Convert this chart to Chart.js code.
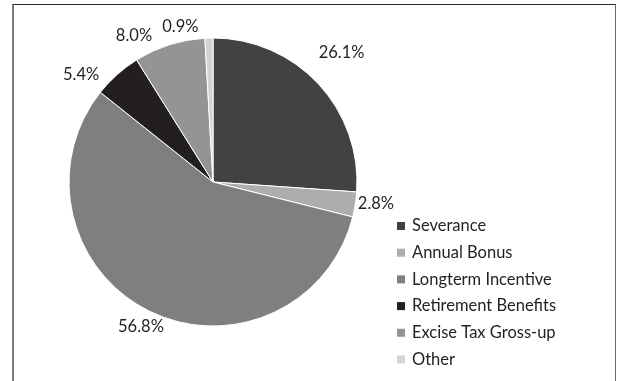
<!DOCTYPE html>
<html>
<head>
<meta charset="utf-8">
<script src="https://cdn.jsdelivr.net/npm/chart.js@4"></script>
<style>
    html, body { margin: 0; padding: 0; background: #fff; overflow: hidden; }
    #wrap { position: relative; width: 617px; height: 381px; }
    #frame {
        position: absolute; left: 12px; top: 4px; width: 601px; height: 400px;
        border-top: 1px solid #2a2a2a; border-left: 2px solid #7a7a7a; border-right: 1px solid #666;
    }
    canvas { position: absolute; left: 0; top: 0; }
</style>
</head>
<body>
<div id="wrap">
    <div id="frame"></div>
    <canvas id="pieChart" width="617" height="381"></canvas>
</div>
<script>
// Данные
const categories = ['Severance', 'Annual Bonus', 'Longterm Incentive', 'Retirement Benefits', 'Excise Tax Gross-up', 'Other'];
const shares = [26.1, 2.8, 56.8, 5.4, 8.0, 0.9];
const sliceColors = ['#414244', '#acadaf', '#7e7f81', '#231f20', '#939496', '#d2d3d5'];

const FONT = '16.5px Lato, "Open Sans", sans-serif';
const TEXT_COLOR = '#231f20';

// небольшие сдвиги подписей, как в оригинале (px)
const labelNudge = [[8, -17], [0, -4], [1, -3], [-22, 16], [-29, 11], [-28, 10]];

const pctLabels = {
    id: 'pctLabels',
    afterDatasetsDraw(chart) {
        const ctx = chart.ctx;
        const arcs = chart.getDatasetMeta(0).data;
        ctx.save();
        ctx.font = FONT;
        ctx.fillStyle = TEXT_COLOR;
        ctx.textAlign = 'center';
        ctx.textBaseline = 'middle';
        arcs.forEach((arc, i) => {
            const p = arc.getProps(['x', 'y', 'startAngle', 'endAngle', 'outerRadius'], true);
            const mid = (p.startAngle + p.endAngle) / 2;
            const d = p.outerRadius + 21;
            const x = p.x + Math.cos(mid) * d + labelNudge[i][0];
            const y = p.y + Math.sin(mid) * d + labelNudge[i][1];
            ctx.fillText(shares[i].toFixed(1) + '%', x, y);
        });
        ctx.restore();
    }
};

const sideLegend = {
    id: 'sideLegend',
    afterDraw(chart) {
        const ctx = chart.ctx;
        ctx.save();
        ctx.font = FONT;
        ctx.textBaseline = 'middle';
        categories.forEach((name, i) => {
            const y = 226 + i * 26.7;
            ctx.fillStyle = sliceColors[i];
            ctx.fillRect(397, y - 4, 8, 8);
            ctx.fillStyle = TEXT_COLOR;
            ctx.fillText(name, 412, y);
        });
        ctx.restore();
    }
};

const ctx = document.getElementById('pieChart').getContext('2d');
const pieChart = new Chart(ctx, {
    type: 'pie',
    data: {
        labels: categories,
        datasets: [
            {
                data: shares,
                backgroundColor: sliceColors,
                borderColor: '#ffffff',
                borderWidth: 1,
                radius: 144
            }
        ]
    },
    options: {
        responsive: false,
        animation: false,
        layout: {
            padding: { left: 69, right: 260, top: 38, bottom: 55 }
        },
        plugins: {
            legend: { display: false },
            tooltip: { enabled: false }
        }
    },
    plugins: [pctLabels, sideLegend]
});
</script>
</body>
</html>
